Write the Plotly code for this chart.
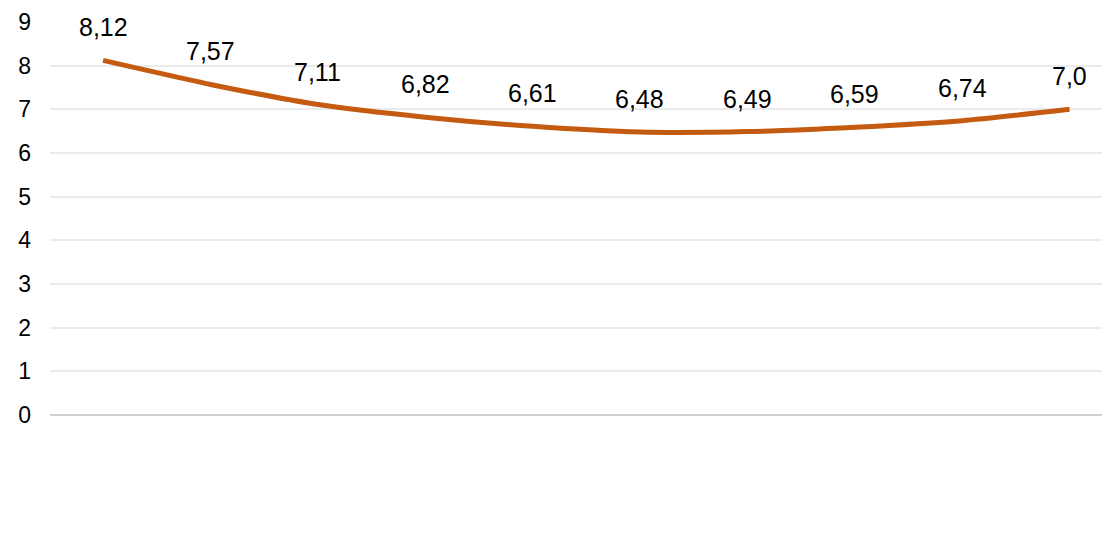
import plotly.graph_objects as go

categories = ["1", "2", "3", "4", "5", "6", "7", "8", "9", "10"]
values = [8.12, 7.57, 7.11, 6.82, 6.61, 6.48, 6.49, 6.59, 6.74, 7.0]
labels = ["8,12", "7,57", "7,11", "6,82", "6,61", "6,48", "6,49", "6,59", "6,74", "7,0"]
y_ticks = [0, 1, 2, 3, 4, 5, 6, 7, 8, 9]

fig = go.Figure()
fig.add_trace(go.Scatter(
    x=categories, y=values, mode="lines",
    line=dict(color="#C55A11", width=5, shape="spline", smoothing=0.6),
    hoverinfo="skip", showlegend=False,
))
for i, (v, t) in enumerate(zip(values, labels)):
    fig.add_annotation(x=i, y=v, text=t, showarrow=False, yshift=33,
                       font=dict(family="Liberation Sans, Arial", size=25, color="#000000"))

fig.update_layout(
    width=1110, height=535,
    margin=dict(l=42, r=8, t=14, b=128, autoexpand=False),
    paper_bgcolor="white", plot_bgcolor="white",
    font=dict(family="Liberation Sans, Arial", size=23, color="#000000"),
)
fig.update_xaxes(type="category", showticklabels=False, showgrid=False, zeroline=False,
                 range=[-0.494, 9.377], showline=False, automargin=False)
fig.update_yaxes(range=[0, 9], tickvals=y_ticks, showgrid=True, gridcolor="#ebebeb",
                 gridwidth=1.5, zeroline=True, zerolinecolor="#d0d0d0", zerolinewidth=2,
                 ticks="", ticklabelstandoff=18, automargin=False)
fig.write_html("out.html")
